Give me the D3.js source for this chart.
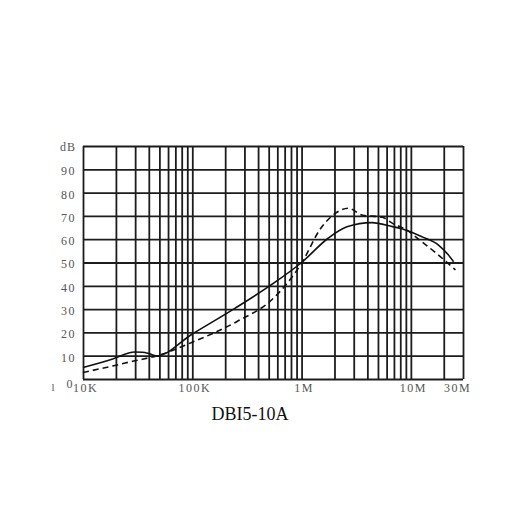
<!DOCTYPE html>
<html>
<head>
<meta charset="utf-8">
<script src="https://cdn.jsdelivr.net/npm/d3@7"></script>
<style>
  html, body { margin: 0; padding: 0; background: #fff; }
  svg { display: block; }
</style>
</head>
<body>
<svg id="chart" width="522" height="522"></svg>
<script>
// ---- data ----
const title = "DBI5-10A";
const yUnit = "dB";
const yTicks = [0, 10, 20, 30, 40, 50, 60, 70, 80, 90];
const xLabelValues = [1e4, 1e5, 1e6, 1e7, 3e7];
const xLabelTexts = ["10K", "100K", "1M", "10M", "30M"];
const xGridValues = [
  1e4, 2e4, 3e4, 4e4, 5e4, 6e4, 7e4, 8e4, 9e4,
  1e5, 2e5, 3e5, 4e5, 5e5, 6e5, 7e5, 8e5, 9e5,
  1e6, 2e6, 3e6, 4e6, 5e6, 6e6, 7e6, 8e6, 9e6,
  1e7, 2e7, 3e7
];
const yGridValues = [0, 10, 20, 30, 40, 50, 60, 70, 80, 90, 100];

// solid curve: [frequency Hz, dB]
const solidFreq = [1e4, 1.87e4, 2.97e4, 3.5e4, 4.06e4, 4.7e4, 1e5, 2.45e5, 5.51e5, 1e6, 1.75e6, 2.6e6, 4.4e6, 6.8e6, 8.4e6, 1.27e7, 1.79e7, 2.18e7, 2.46e7];
const solidDB   = [4.9, 8.6, 11.6, 11.5, 10.8, 9.9, 19.3, 30.3, 41, 50, 60.4, 65.3, 67.1, 65.4, 64.4, 61, 57.5, 53.5, 50.3];

// dashed curve: [frequency Hz, dB]
const dashFreq = [1e4, 1.87e4, 2.97e4, 4.7e4, 1e5, 2.55e5, 5.51e5, 7.59e5, 1e6, 1.5e6, 1.87e6, 2.69e6, 3.56e6, 5.47e6, 6.8e6, 8.97e6, 1.2e7, 1.79e7, 2.56e7];
const dashDB   = [2.8, 5.6, 7.8, 9.9, 15.8, 24.6, 34.6, 41.8, 49.7, 64.7, 69.7, 73.3, 70.4, 69.4, 66.8, 64.2, 59.7, 53.2, 46.8];

// ---- drawing ----
const svg = d3.select("#chart");
const x = d3.scaleLog().domain([1e4, 3e7]).range([83, 463]);
const y = d3.scaleLinear().domain([0, 100]).range([379, 146]);

const gridColor = "#1c1c1c";
const labelColor = "#555";
const labelFont = "'Liberation Serif', 'DejaVu Serif', serif";

// vertical grid
const vg = svg.append("g")
  .attr("transform", `translate(0,${y(0)})`)
  .call(d3.axisBottom(x).tickValues(xGridValues).tickSize(y(0) - y(100)).tickSizeOuter(0).tickFormat(""));
vg.select(".domain").remove();
vg.selectAll(".tick line")
  .attr("y2", -(y(0) - y(100)))
  .attr("stroke", gridColor).attr("stroke-width", 1.8);

// horizontal grid
const hg = svg.append("g")
  .attr("transform", `translate(${x.range()[0]},0)`)
  .call(d3.axisLeft(y).tickValues(yGridValues).tickSize(-(x.range()[1] - x.range()[0])).tickSizeOuter(0).tickFormat(""));
hg.select(".domain").remove();
hg.selectAll(".tick line").attr("stroke", gridColor).attr("stroke-width", 1.8);

// y labels
const yl = svg.append("g")
  .attr("transform", `translate(76,0)`)
  .call(d3.axisLeft(y).tickValues(yTicks).tickSize(0).tickPadding(0).tickFormat(d3.format("d")));
yl.select(".domain").remove();
yl.selectAll("text")
  .attr("font-family", labelFont).attr("font-size", 12)
  .attr("fill", labelColor).attr("letter-spacing", 1.5)
  .attr("dy", d => d === 0 ? "0.72em" : "0.45em");
yl.selectAll(".tick").filter(d => d === 0).select("text").attr("x", -2);

svg.append("text")
  .attr("x", 76).attr("y", y(100)).attr("dy", "0.45em")
  .attr("text-anchor", "end")
  .attr("font-family", labelFont).attr("font-size", 12)
  .attr("fill", labelColor).attr("letter-spacing", 1)
  .text(yUnit);

svg.append("text")
  .attr("x", 53).attr("y", 391)
  .attr("text-anchor", "middle")
  .attr("font-family", labelFont).attr("font-size", 11)
  .attr("fill", labelColor)
  .text("l");

// x labels
const xl = svg.append("g")
  .attr("transform", `translate(0,${y(0) + 8})`)
  .call(d3.axisBottom(x).tickValues(xLabelValues).tickSize(0).tickPadding(0)
    .tickFormat((d, i) => xLabelTexts[i]));
xl.select(".domain").remove();
xl.selectAll("text")
  .attr("font-family", labelFont).attr("font-size", 12)
  .attr("fill", labelColor).attr("letter-spacing", 1.5)
  .attr("dy", "0.45em")
  .attr("dx", (d, i) => i === xLabelValues.length - 1 ? -6 : 2);

// curves
const line = d3.line()
  .x(d => x(d[0]))
  .y(d => y(d[1]))
  .curve(d3.curveMonotoneX);

svg.append("path")
  .datum(solidFreq.map((f, i) => [f, solidDB[i]]))
  .attr("d", line)
  .attr("fill", "none").attr("stroke", "#111").attr("stroke-width", 1.6);

svg.append("path")
  .datum(dashFreq.map((f, i) => [f, dashDB[i]]))
  .attr("d", line)
  .attr("fill", "none").attr("stroke", "#111").attr("stroke-width", 1.6)
  .attr("stroke-dasharray", "6,4");

// title
svg.append("text")
  .attr("x", 250).attr("y", 420)
  .attr("text-anchor", "middle")
  .attr("font-family", "'Liberation Serif', 'Times New Roman', serif")
  .attr("font-size", 18).attr("fill", "#111")
  .text(title);
</script>
</body>
</html>
